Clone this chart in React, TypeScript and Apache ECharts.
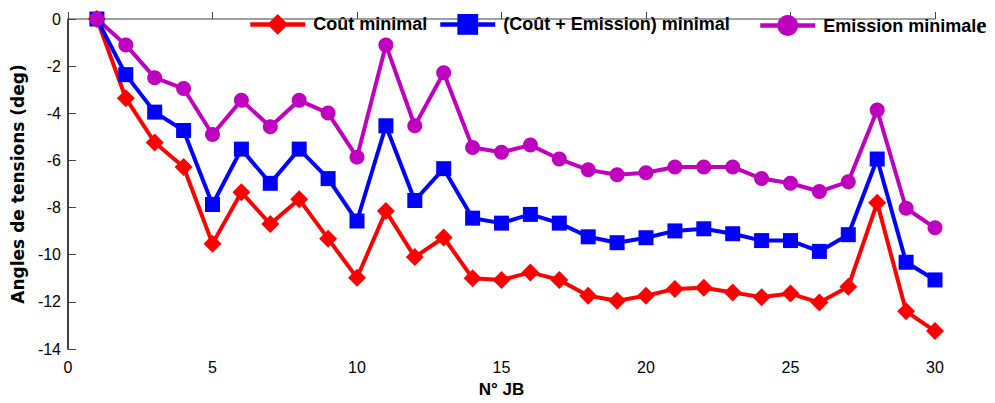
import React, { useEffect, useRef } from "react";
import * as echarts from "echarts";

// Bus numbers (N° JB)
const buses: number[] = Array.from({ length: 30 }, (_, i) => i + 1);

// Voltage angles (deg) for each dispatch strategy
const coutMinimal: number[] = [
  0, -3.36, -5.24, -6.28, -9.53, -7.35, -8.7, -7.65, -9.32, -10.98,
  -8.15, -10.1, -9.27, -11.0, -11.07, -10.75, -11.07, -11.74, -11.95, -11.74,
  -11.45, -11.4, -11.6, -11.8, -11.65, -12.03, -11.36, -7.8, -12.4, -13.24,
];

const coutEmission: number[] = [
  0, -2.36, -3.95, -4.73, -7.87, -5.52, -6.97, -5.52, -6.77, -8.57,
  -4.53, -7.7, -6.35, -8.45, -8.66, -8.29, -8.66, -9.24, -9.49, -9.28,
  -8.99, -8.9, -9.11, -9.4, -9.4, -9.86, -9.15, -5.94, -10.32, -11.07,
];

const emissionMinimale: number[] = [
  0, -1.1, -2.49, -2.95, -4.9, -3.45, -4.57, -3.45, -3.99, -5.86,
  -1.1, -4.53, -2.28, -5.45, -5.65, -5.35, -5.94, -6.4, -6.61, -6.52,
  -6.28, -6.28, -6.28, -6.77, -6.97, -7.32, -6.9, -3.86, -8.03, -8.86,
];

const xTicks = { min: 0, max: 30, interval: 5 };
const yTicks = { min: -14, max: 0, interval: 2 };

const NAME_COUT = "Coût minimal";
const NAME_MIX = "(Coût + Emission) minimal";
const NAME_EMI = "Emission minimale";

const pairs = (ys: number[]) => buses.map((x, i) => [x, ys[i]]);

export default function App() {
  const ref = useRef<HTMLDivElement>(null);

  useEffect(() => {
    if (!ref.current) return;
    document.body.style.margin = "0";
    const chart = echarts.init(ref.current, null, { renderer: "svg" });
    const font = "'Liberation Sans', Arial, sans-serif";
    const legendText = {
      fontFamily: font,
      fontWeight: "bold" as const,
      fontSize: 18,
      lineHeight: 20,
      color: "#000",
      padding: [0, 0, 0, 3],
    };
    const legendBase = {
      top: 14,
      padding: 0,
      itemWidth: 55,
      itemHeight: 26,
      lineStyle: { width: 4.5 },
      textStyle: legendText,
    };
    chart.setOption({
      animation: false,
      backgroundColor: "#fff",
      grid: { left: 68, right: 60, top: 19, bottom: 48, containLabel: false },
      legend: [
        { ...legendBase, left: 248, data: [NAME_COUT] },
        { ...legendBase, left: 438, data: [NAME_MIX] },
        {
          ...legendBase,
          left: 758,
          data: [NAME_EMI],
          formatter: () => "{t|Emission minimal}{e|e}",
          textStyle: {
            ...legendText,
            rich: {
              t: {
                fontFamily: font,
                fontWeight: "bold",
                fontSize: 18,
                lineHeight: 20,
                color: "#000",
              },
              e: {
                fontFamily: "'Liberation Serif', serif",
                fontWeight: "bold",
                fontSize: 23,
                lineHeight: 20,
                color: "#000",
              },
            },
          },
        },
      ],
      xAxis: {
        type: "value",
        ...xTicks,
        name: "N° JB",
        nameLocation: "middle",
        nameGap: 32,
        nameTextStyle: { fontFamily: font, fontWeight: "bold", fontSize: 17, color: "#000" },
        axisLine: { show: true, lineStyle: { color: "#7f7f7f", width: 1.5 } },
        axisTick: { show: true, inside: true, length: 7, lineStyle: { color: "#444" } },
        axisLabel: { fontFamily: font, fontSize: 16, color: "#000", margin: 10 },
        splitLine: { show: false },
      },
      yAxis: {
        type: "value",
        ...yTicks,
        name: "Angles de tensions (deg)",
        nameLocation: "middle",
        nameGap: 41,
        nameTextStyle: {
          fontFamily: "'DejaVu Sans', sans-serif",
          fontWeight: "bold",
          fontSize: 17,
          color: "#000",
        },
        axisLine: { show: true, onZero: false, lineStyle: { color: "#000", width: 1.5 } },
        axisTick: { show: true, inside: true, length: 8, lineStyle: { color: "#444" } },
        axisLabel: { fontFamily: font, fontSize: 16, color: "#000", margin: 7 },
        splitLine: { show: false },
      },
      series: [
        {
          name: NAME_COUT,
          type: "line",
          data: pairs(coutMinimal),
          symbol: "diamond",
          symbolSize: 18,
          color: "#ff0000",
          lineStyle: { width: 4, color: "#ff0000" },
          itemStyle: { color: "#ff0000" },
        },
        {
          name: NAME_MIX,
          type: "line",
          data: pairs(coutEmission),
          symbol: "rect",
          symbolSize: 15,
          color: "#0000ff",
          lineStyle: { width: 4, color: "#0000ff" },
          itemStyle: { color: "#0000ff" },
        },
        {
          name: NAME_EMI,
          type: "line",
          data: pairs(emissionMinimale),
          symbol: "circle",
          symbolSize: 15,
          color: "#bf00bf",
          lineStyle: { width: 4, color: "#bf00bf" },
          itemStyle: { color: "#bf00bf" },
        },
      ],
    });
    return () => chart.dispose();
  }, []);

  return <div ref={ref} style={{ width: 995, height: 403 }} />;
}
